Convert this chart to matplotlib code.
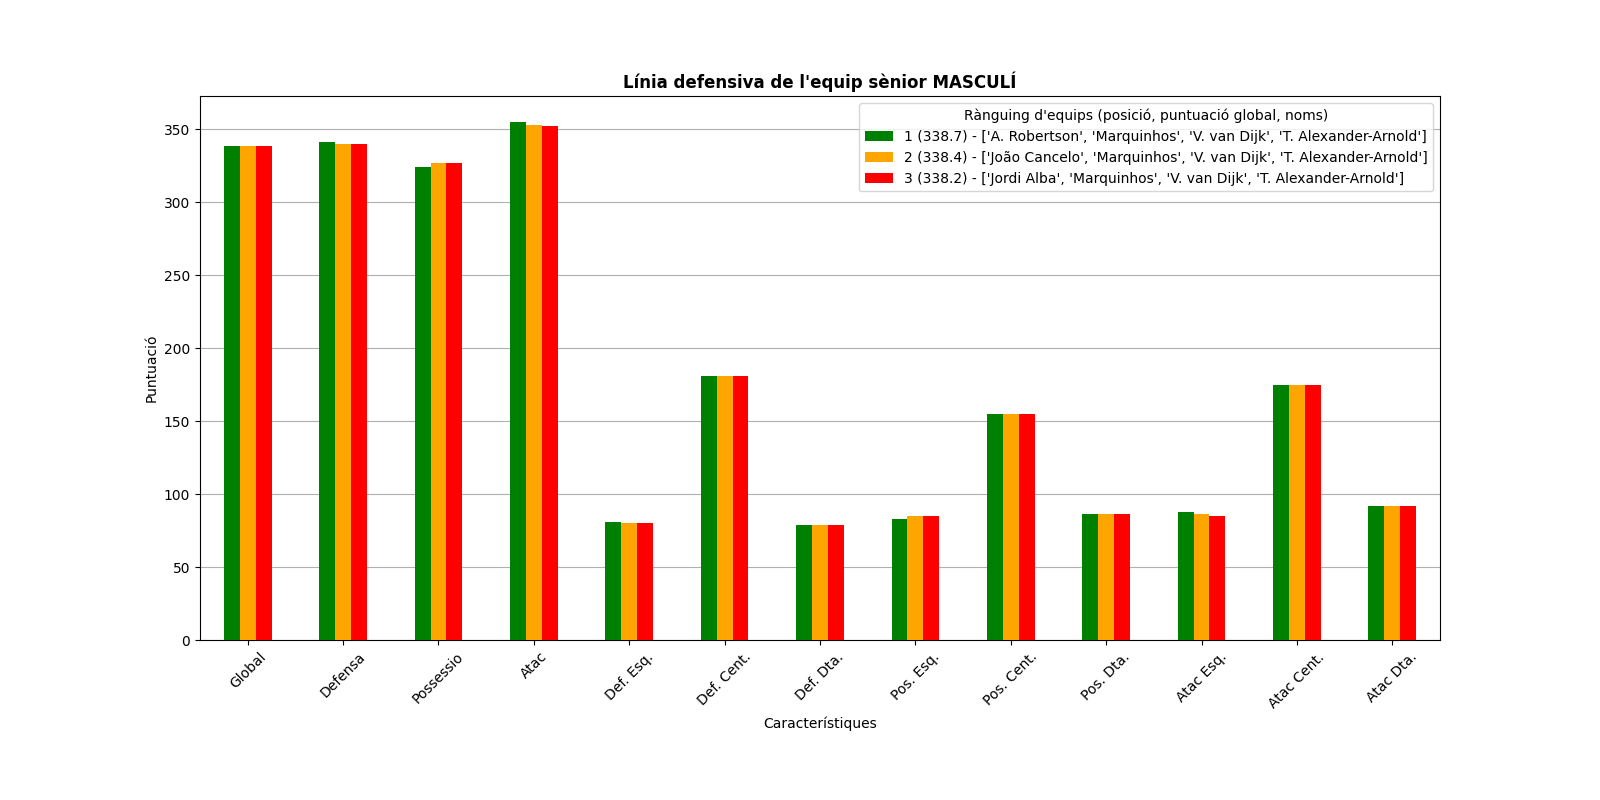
import numpy as np
import matplotlib
matplotlib.use("Agg")
import matplotlib.pyplot as plt

# -----------------------------
# Data
# -----------------------------
categories = ["Global", "Defensa", "Possessio", "Atac", "Def. Esq.", "Def. Cent.",
              "Def. Dta.", "Pos. Esq.", "Pos. Cent.", "Pos. Dta.", "Atac Esq.",
              "Atac Cent.", "Atac Dta."]

team1 = [338.7, 341.4, 324.3, 355.0, 81.1, 180.7, 79.1, 83.2, 154.8, 86.6, 88.0, 174.5, 92.0]
team2 = [338.4, 340.2, 326.5, 353.0, 80.5, 180.7, 79.1, 85.2, 154.8, 86.6, 86.6, 174.5, 92.0]
team3 = [338.2, 340.2, 326.5, 352.3, 80.5, 180.7, 79.1, 85.2, 154.8, 86.6, 85.2, 174.5, 92.0]

labels = [
    "1 (338.7) - ['A. Robertson', 'Marquinhos', 'V. van Dijk', 'T. Alexander-Arnold']",
    "2 (338.4) - ['João Cancelo', 'Marquinhos', 'V. van Dijk', 'T. Alexander-Arnold']",
    "3 (338.2) - ['Jordi Alba', 'Marquinhos', 'V. van Dijk', 'T. Alexander-Arnold']",
]
colors = ["green", "orange", "red"]

# -----------------------------
# Plot
# -----------------------------
fig, ax = plt.subplots(figsize=(16, 8), dpi=100)
fig.subplots_adjust(bottom=0.2)

x = np.arange(len(categories))
width = 0.5 / 3
for i, (vals, lab, col) in enumerate(zip([team1, team2, team3], labels, colors)):
    ax.bar(x + (i - 1) * width, vals, width, label=lab, color=col, zorder=3)

ax.set_xlim(-0.5, len(categories) - 0.5)
ax.set_xticks(x)
ax.set_xticklabels(categories, rotation=45)
ax.grid(axis="y", color="#b0b0b0", zorder=0)
ax.set_axisbelow(True)

ax.set_title("Línia defensiva de l'equip sènior MASCULÍ", fontweight="bold", fontsize=12)
ax.set_xlabel("Característiques")
ax.set_ylabel("Puntuació")
ax.legend(title="Rànguing d'equips (posició, puntuació global, noms)", loc="upper right")

fig.savefig("out.png", dpi=100)
